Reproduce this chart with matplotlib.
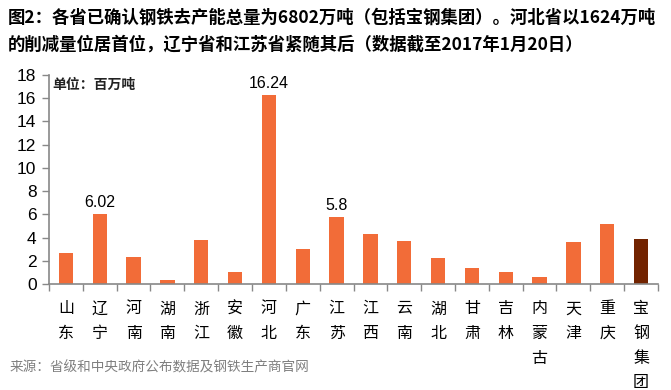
import matplotlib
matplotlib.use("Agg")
import matplotlib.pyplot as plt
import numpy as np

plt.rcParams['font.family'] = ['Noto Sans CJK SC', 'DejaVu Sans']

provinces = ["山东", "辽宁", "河南", "湖南", "浙江", "安徽", "河北", "广东", "江苏",
             "江西", "云南", "湖北", "甘肃", "吉林", "内蒙古", "天津", "重庆", "宝钢集团"]
values = [2.67, 6.02, 2.33, 0.34, 3.79, 1.03, 16.24, 3.01, 5.80,
          4.31, 3.70, 2.24, 1.38, 1.03, 0.60, 3.62, 5.17, 3.88]
labeled = {"辽宁": "6.02", "河北": "16.24", "江苏": "5.8"}
yticks = [0, 2, 4, 6, 8, 10, 12, 14, 16, 18]

orange = "#F26C38"
dark = "#722300"
axis_gray = "#888888"

fig = plt.figure(figsize=(6.71, 3.90), dpi=100)
ax = fig.add_axes([49/671, 106/390, (658-49)/671, (284-75)/390])

x = np.arange(len(provinces))
colors = [dark if p == "宝钢集团" else orange for p in provinces]
ax.bar(x, values, width=0.42, color=colors, zorder=2)

for i, (p, v) in enumerate(zip(provinces, values)):
    if p in labeled:
        ax.text(i, v + 0.35, labeled[p], ha='center', va='bottom',
                fontsize=11.5, family=['Liberation Sans', 'DejaVu Sans'], color='black')

ax.set_xlim(-0.5, len(provinces) - 0.5)
ax.set_ylim(0, 18)
ax.set_yticks(yticks)
ax.set_yticklabels([str(t) for t in yticks], fontsize=12.5,
                   family=['Liberation Sans', 'DejaVu Sans'])
ax.tick_params(axis='y', direction='out', length=5, color=axis_gray, width=1, pad=4)

ax.set_xticks(np.arange(len(provinces) + 1) - 0.5)
ax.set_xticklabels([])
ax.tick_params(axis='x', direction='out', length=5, color=axis_gray, width=1)

for s in ['top', 'right']:
    ax.spines[s].set_visible(False)
for s in ['left', 'bottom']:
    ax.spines[s].set_color(axis_gray)
    ax.spines[s].set_linewidth(1.2)

# vertical category labels
for i, p in enumerate(provinces):
    xd = ax.transData.transform((i, 0))[0] / fig.dpi / fig.get_figwidth()
    for j, ch in enumerate(p):
        fig.text(xd, 1 - (309 + j * 24.5) / 390, ch, ha='center', va='center',
                 fontsize=11.5, color='black')

ax.text(0.006, 0.985, "单位：百万吨", transform=ax.transAxes, ha='left', va='top',
        fontsize=10, fontweight='bold', color='#222222')

fig.text(8/671, 1 - 18/390, "图2：各省已确认钢铁去产能总量为6802万吨（包括宝钢集团）。河北省以1624万吨",
         ha='left', va='center', fontsize=12.5, fontweight='bold', color='black')
fig.text(8/671, 1 - 45/390, "的削减量位居首位，辽宁省和江苏省紧随其后（数据截至2017年1月20日）",
         ha='left', va='center', fontsize=12.5, fontweight='bold', color='black')

fig.text(10/671, 1 - 367/390, "来源：省级和中央政府公布数据及钢铁生产商官网",
         ha='left', va='center', fontsize=9.8, style='italic', color='#7F7F7F')

fig.savefig("out.png", dpi=100)
